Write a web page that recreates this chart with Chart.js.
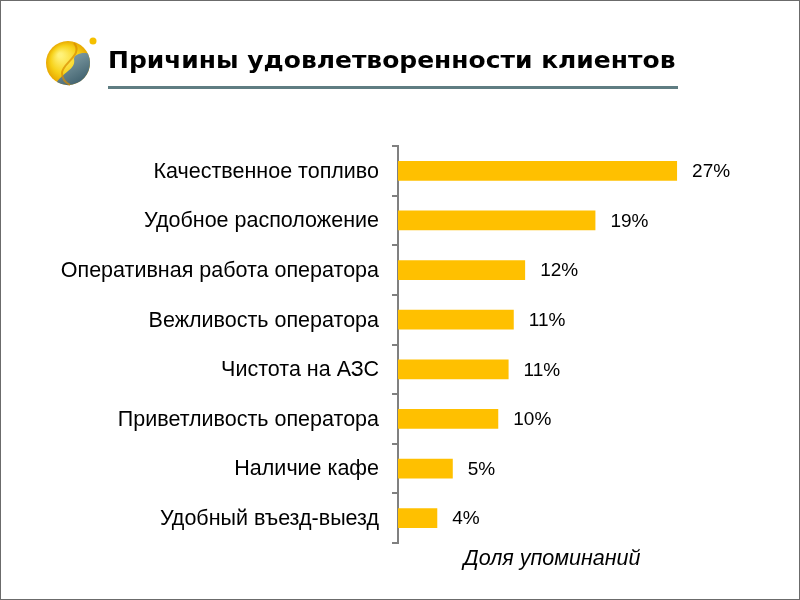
<!DOCTYPE html>
<html>
<head>
<meta charset="utf-8">
<script src="https://cdn.jsdelivr.net/npm/chart.js@4.4.1/dist/chart.umd.min.js"></script>
<style>
  html, body { margin: 0; padding: 0; background: #fff; }
  #wrap { position: relative; width: 800px; height: 600px; overflow: hidden; }
  #frame { position: absolute; left: 0; top: 0; width: 800px; height: 600px; box-sizing: border-box; border: 1px solid #6b6b6b; pointer-events: none; }
  #heading { position: absolute; left: 108px; top: 47px; font: bold 23px "DejaVu Sans", Verdana, sans-serif; line-height: 26px; color: #000; white-space: nowrap; transform: scaleX(1.085); transform-origin: left center; }
  #rule { position: absolute; left: 108px; top: 86px; width: 570px; height: 3px; background: #5f7d82; }
  canvas { position: absolute; left: 0; top: 0; }
</style>
</head>
<body>
<div id="wrap">
  <canvas id="myChart" width="800" height="600"></canvas>
  <div id="heading">Причины удовлетворенности клиентов</div>
  <div id="rule"></div>
  <div id="frame"></div>
</div>
<script>
const categories = [
  'Качественное топливо',
  'Удобное расположение',
  'Оперативная работа оператора',
  'Вежливость оператора',
  'Чистота на АЗС',
  'Приветливость оператора',
  'Наличие кафе',
  'Удобный въезд-выезд'
];
const shares = [27.0, 19.1, 12.3, 11.2, 10.7, 9.7, 5.3, 3.8];
const axisTitle = 'Доля упоминаний';

const FONT = '"Liberation Sans", Arial, sans-serif';
Chart.defaults.font.family = FONT;
Chart.defaults.color = '#000';

// logo in the top left corner
const logoPlugin = {
  id: 'logo',
  beforeDraw(chart) {
    const ctx = chart.ctx;
    const cx = 68, cy = 63, r = 22;
    ctx.save();
    let g = ctx.createRadialGradient(cx - 8, cy - 8, 2, cx, cy, r);
    g.addColorStop(0, '#fff27a');
    g.addColorStop(0.6, '#f7d21a');
    g.addColorStop(1, '#e8a800');
    ctx.beginPath();
    ctx.arc(cx, cy, r, 0, Math.PI * 2);
    ctx.fillStyle = g;
    ctx.fill();

    // slate crescent, bottom right
    ctx.beginPath();
    ctx.arc(cx, cy, r, -0.45, 2.1);
    ctx.bezierCurveTo(cx - 3, cy + 8, cx + 8, cy + 6, cx + 6, cy - 4);
    ctx.bezierCurveTo(cx + 6, cy - 8, cx + 13, cy - 11, cx + r * Math.cos(-0.45), cy + r * Math.sin(-0.45));
    g = ctx.createLinearGradient(cx, cy - 5, cx + 15, cy + 20);
    g.addColorStop(0, '#7d9aa2');
    g.addColorStop(1, '#3e5f6c');
    ctx.fillStyle = g;
    ctx.fill();

    // swirl
    ctx.beginPath();
    ctx.moveTo(cx + 6, cy - 20);
    ctx.bezierCurveTo(cx + 16, cy - 8, cx - 6, cy, cx - 6, cy + 10);
    ctx.bezierCurveTo(cx - 6, cy + 16, cx - 2, cy + 20, cx + 2, cy + 22);
    ctx.strokeStyle = 'rgba(215, 140, 0, 0.7)';
    ctx.lineWidth = 2;
    ctx.stroke();

    ctx.beginPath();
    ctx.arc(93, 41, 3.5, 0, Math.PI * 2);
    ctx.fillStyle = '#f5c000';
    ctx.fill();
    ctx.restore();
  }
};

// percent labels to the right of each bar
const valueLabels = {
  id: 'valueLabels',
  afterDatasetsDraw(chart) {
    const ctx = chart.ctx;
    ctx.save();
    ctx.font = '19px ' + FONT;
    ctx.fillStyle = '#000';
    ctx.textAlign = 'left';
    ctx.textBaseline = 'middle';
    chart.getDatasetMeta(0).data.forEach(function(bar, i) {
      ctx.fillText(Math.round(shares[i]) + '%', bar.x + 15, bar.y + 1);
    });
    ctx.restore();
  }
};

window.onload = function() {
  var ctx = document.getElementById('myChart').getContext('2d');
  new Chart(ctx, {
    type: 'bar',
    data: {
      labels: categories,
      datasets: [{
        data: shares,
        backgroundColor: '#ffc000',
        borderWidth: 0,
        barPercentage: 0.4,
        categoryPercentage: 1
      }]
    },
    options: {
      indexAxis: 'y',
      responsive: false,
      animation: false,
      layout: { padding: { top: 146, bottom: 28, left: 10, right: 94 } },
      plugins: {
        legend: { display: false },
        tooltip: { enabled: false }
      },
      scales: {
        x: {
          min: 0,
          max: 29.8,
          afterFit: function(scale) { scale.height = 29; },
          grid: { display: false },
          border: { display: false },
          ticks: { display: false },
          title: {
            display: true,
            text: axisTitle,
            font: { size: 21.5, style: 'italic' },
            padding: { top: 5, bottom: 0 }
          }
        },
        y: {
          afterFit: function(scale) { scale.width = 388; },
          grid: {
            drawOnChartArea: false,
            drawTicks: true,
            tickLength: 6,
            color: '#808080',
            lineWidth: 2
          },
          border: { display: true, color: '#808080', width: 2 },
          ticks: {
            padding: 13,
            labelOffset: 1,
            font: { size: 21.5 },
            color: '#000'
          }
        }
      }
    },
    plugins: [logoPlugin, valueLabels]
  });
};
</script>
</body>
</html>
